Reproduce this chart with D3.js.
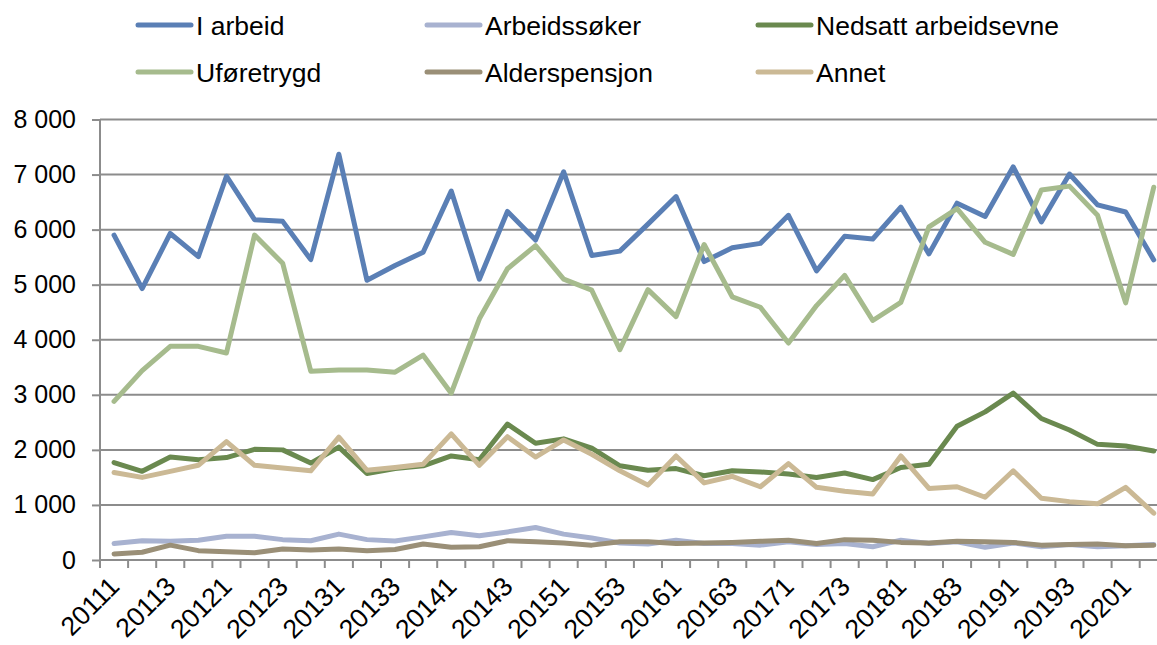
<!DOCTYPE html>
<html>
<head>
<meta charset="utf-8">
<script src="https://cdn.jsdelivr.net/npm/d3@7"></script>
<style>
    body { margin: 0; background: #fff; }
    svg { display: block; font-family: "Liberation Sans", Arial, sans-serif; }
    .grid line { stroke: #8c8c8c; stroke-width: 2; }
    .axis path, .axis line { stroke: #8c8c8c; stroke-width: 2; }
    .axis text { fill: #000; font-size: 25px; }
    .axis text.xlab { font-size: 26.5px; }
    .legend text { font-size: 26.5px; fill: #000; }
</style>
</head>
<body>
<div id="lineChart"></div>
<script>
// quarters, year + quarter number
var quarters = ["20111","20112","20113","20114","20121","20122","20123","20124",
    "20131","20132","20133","20134","20141","20142","20143","20144",
    "20151","20152","20153","20154","20161","20162","20163","20164",
    "20171","20172","20173","20174","20181","20182","20183","20184",
    "20191","20192","20193","20194","20201","20202"];

var yTicks = [0, 1000, 2000, 3000, 4000, 5000, 6000, 7000, 8000];

var seriesNames = ["I arbeid", "Arbeidssøker", "Nedsatt arbeidsevne", "Uføretrygd", "Alderspensjon", "Annet"];
var seriesColors = ["#5a7fb5", "#a8b2d0", "#6a894f", "#a6bb8d", "#9a8f77", "#cbb995"];

var iArbeid = [5900,4930,5930,5510,6970,6180,6150,5455,7370,5080,5350,5590,6700,5100,6330,5810,7050,5530,5610,6100,
    6600,5420,5670,5750,6260,5250,5880,5830,6410,5560,6480,6240,7140,6140,7010,6450,6320,5450];
var arbeidssoker = [300,350,340,360,430,430,370,350,470,370,345,420,500,440,510,590,470,400,310,290,
    360,300,300,270,330,280,300,240,360,300,330,230,310,240,280,240,260,280];
var nedsatt = [1770,1610,1870,1820,1860,2010,2000,1760,2050,1570,1660,1710,1890,1820,2470,2120,2200,2030,1710,1630,
    1660,1530,1620,1600,1560,1500,1580,1460,1680,1740,2430,2690,3030,2570,2360,2100,2070,1980];
var uforetrygd = [2880,3440,3880,3880,3760,5900,5390,3430,3450,3450,3410,3720,3030,4380,5290,5710,5100,4900,3820,4910,
    4420,5730,4780,4590,3940,4620,5170,4350,4680,6050,6380,5770,5550,6720,6790,6260,4670,6770];
var alderspensjon = [110,140,270,170,150,130,200,180,200,170,190,290,230,240,350,330,310,270,330,330,
    300,310,320,340,360,300,370,360,320,310,340,330,320,270,280,290,260,270];
var annet = [1590,1500,1610,1720,2150,1720,1670,1620,2230,1630,1680,1740,2290,1720,2240,1870,2180,1920,1620,1360,
    1890,1400,1520,1330,1750,1320,1250,1200,1890,1300,1330,1140,1620,1120,1060,1020,1320,850];

var seriesValues = [iArbeid, arbeidssoker, nedsatt, uforetrygd, alderspensjon, annet];

/**
 * Constructor for the line chart
 */
function LineChart() {
    var self = this;
    self.init();
}

LineChart.prototype.init = function () {
    var self = this;
    self.svgWidth = 1157;
    self.svgHeight = 645;
    self.plotLeft = 100;
    self.plotTop = 119.5;
    self.plotBottom = 560;
    self.step = 28.1;

    self.svg = d3.select("#lineChart").append("svg")
        .attr("width", self.svgWidth)
        .attr("height", self.svgHeight);

    self.series = seriesNames.map(function (name, i) {
        return {name: name, color: seriesColors[i], values: seriesValues[i]};
    });
};

LineChart.prototype.update = function () {
    var self = this;
    var fmt = d3.formatLocale({decimal: ",", thousands: "\u00a0", grouping: [3], currency: ["", ""]}).format(",");

    // plot runs past the right edge, like the cropped original
    var xScale = d3.scaleBand()
        .domain(quarters)
        .range([self.plotLeft, self.plotLeft + quarters.length * self.step]);

    var yScale = d3.scaleLinear()
        .domain([0, 8000])
        .range([self.plotBottom, self.plotTop]);

    // horizontal grid
    self.svg.append("g").attr("class", "grid")
        .selectAll("line").data(yTicks.slice(1))
        .enter().append("line")
        .attr("x1", self.plotLeft).attr("x2", self.svgWidth)
        .attr("y1", function (d) { return yScale(d); })
        .attr("y2", function (d) { return yScale(d); });

    var yAxis = d3.axisLeft(yScale).tickValues(yTicks).tickSize(8).tickPadding(16)
        .tickFormat(function (d) { return fmt(d); });
    self.svg.append("g").attr("class", "axis")
        .attr("transform", "translate(" + self.plotLeft + ",0)")
        .call(yAxis)
        .call(function (g) { g.select(".domain").attr("d", "M0," + self.plotTop + "V" + self.plotBottom); });

    // x axis: ticks at band edges
    var xg = self.svg.append("g").attr("class", "axis");
    xg.append("line")
        .attr("x1", self.plotLeft).attr("x2", self.svgWidth)
        .attr("y1", self.plotBottom).attr("y2", self.plotBottom);
    xg.selectAll(".tk").data(quarters)
        .enter().append("line").attr("class", "tk")
        .attr("x1", function (d) { return xScale(d); })
        .attr("x2", function (d) { return xScale(d); })
        .attr("y1", self.plotBottom).attr("y2", self.plotBottom + 8);
    xg.selectAll("text").data(quarters.filter(function (d, i) { return i % 2 === 0; }))
        .enter().append("text")
        .attr("class", "xlab")
        .attr("text-anchor", "end")
        .attr("transform", function (d) {
            var cx = xScale(d) + xScale.bandwidth() / 2;
            return "translate(" + (cx + 7) + "," + 588 + ") rotate(-45)";
        })
        .text(function (d) { return d; });

    var line = d3.line()
        .x(function (d, i) { return xScale(quarters[i]) + xScale.bandwidth() / 2; })
        .y(function (d) { return yScale(d); });

    self.svg.append("g").attr("id", "lines")
        .selectAll("path").data(self.series)
        .enter().append("path")
        .attr("fill", "none")
        .attr("stroke", function (d) { return d.color; })
        .attr("stroke-width", 5)
        .attr("stroke-linejoin", "round")
        .attr("stroke-linecap", "round")
        .attr("d", function (d) { return line(d.values); });

    // legend, 3 columns x 2 rows
    var colX = [138, 427, 758];
    var rowY = [25, 72];
    var leg = self.svg.append("g").attr("class", "legend")
        .selectAll("g").data(self.series)
        .enter().append("g")
        .attr("transform", function (d, i) {
            return "translate(" + colX[i % 3] + "," + rowY[Math.floor(i / 3)] + ")";
        });
    leg.append("line")
        .attr("x1", 0).attr("x2", 53)
        .attr("stroke", function (d) { return d.color; })
        .attr("stroke-width", 5)
        .attr("stroke-linecap", "round");
    leg.append("text")
        .attr("x", 58).attr("y", 9.5)
        .text(function (d) { return d.name; });
};

var chart = new LineChart();
chart.update();
</script>
</body>
</html>
